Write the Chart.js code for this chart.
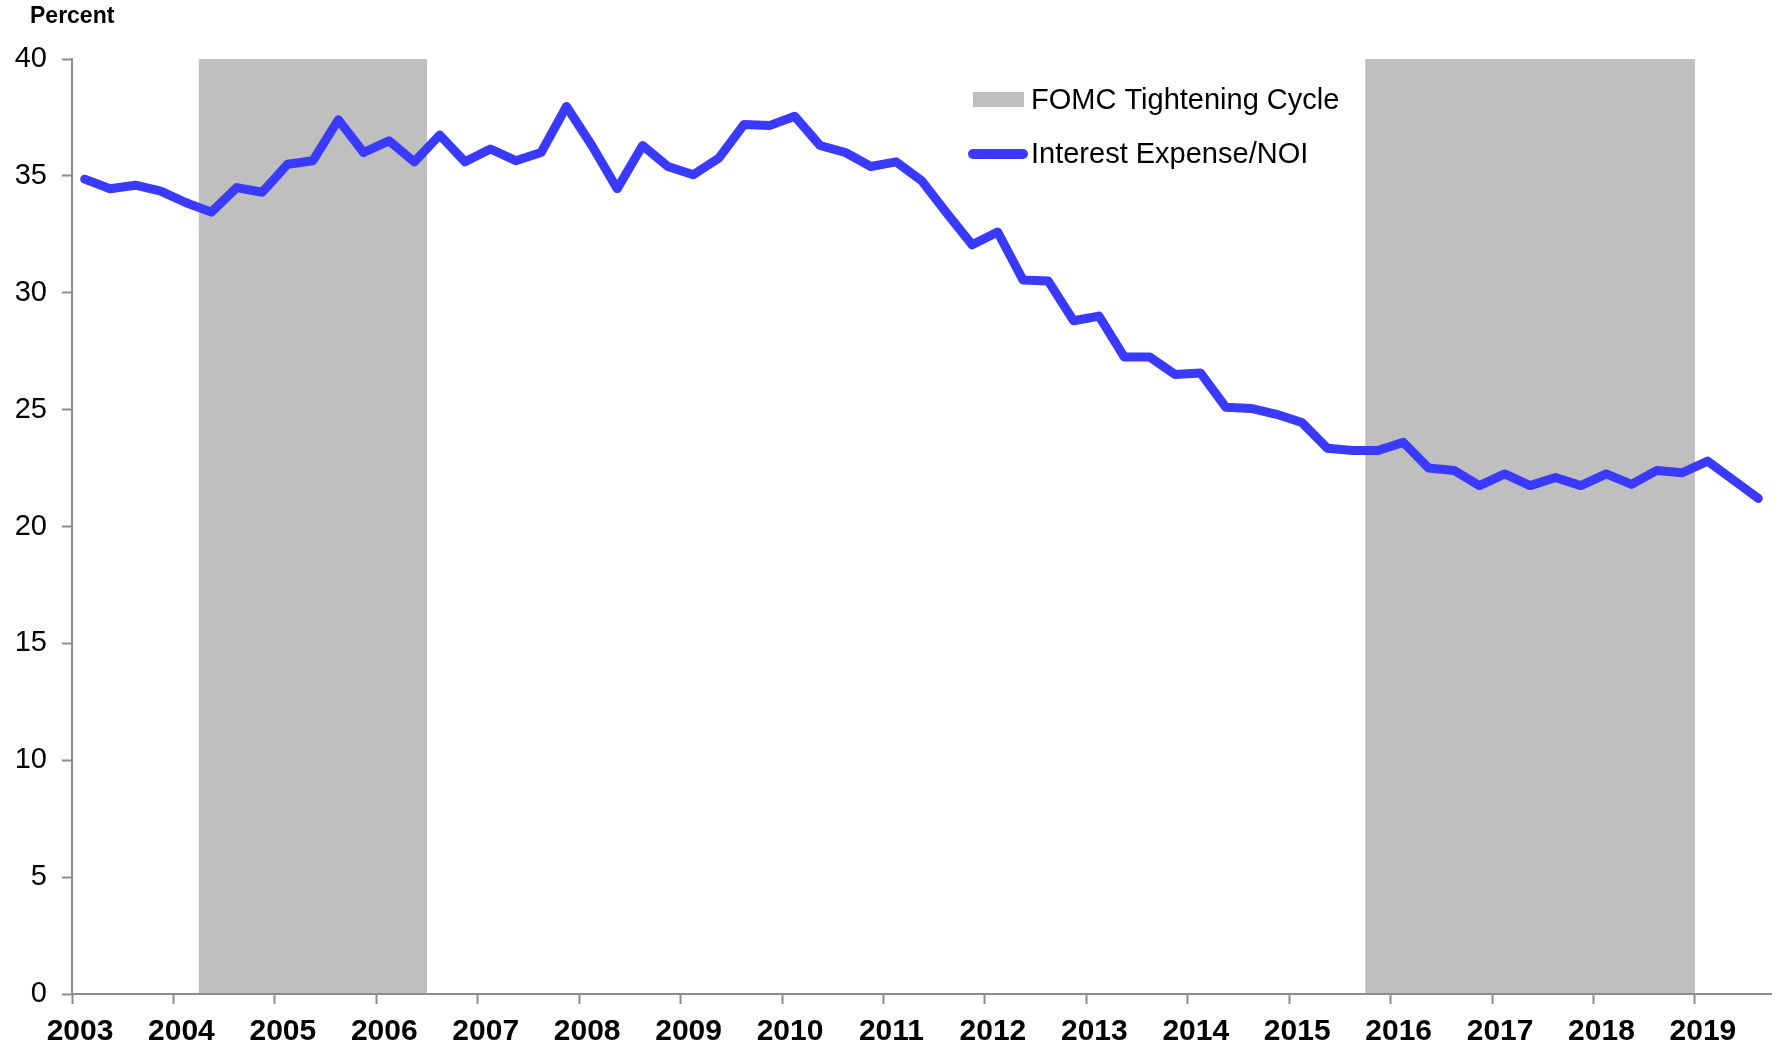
<!DOCTYPE html>
<html>
<head>
<meta charset="utf-8">
<title>Interest Expense/NOI</title>
<script src="https://cdn.jsdelivr.net/npm/chart.js@4.4.1/dist/chart.umd.min.js"></script>
<style>
  html, body { margin: 0; padding: 0; background: #fff; }
  #wrap { width: 1777px; height: 1047px; position: relative; }
</style>
</head>
<body>
<div id="wrap"><canvas id="interestChart"></canvas></div>
<script>
/* ── data ── */
const quarters = [
  '2003Q1','2003Q2','2003Q3','2003Q4',
  '2004Q1','2004Q2','2004Q3','2004Q4',
  '2005Q1','2005Q2','2005Q3','2005Q4',
  '2006Q1','2006Q2','2006Q3','2006Q4',
  '2007Q1','2007Q2','2007Q3','2007Q4',
  '2008Q1','2008Q2','2008Q3','2008Q4',
  '2009Q1','2009Q2','2009Q3','2009Q4',
  '2010Q1','2010Q2','2010Q3','2010Q4',
  '2011Q1','2011Q2','2011Q3','2011Q4',
  '2012Q1','2012Q2','2012Q3','2012Q4',
  '2013Q1','2013Q2','2013Q3','2013Q4',
  '2014Q1','2014Q2','2014Q3','2014Q4',
  '2015Q1','2015Q2','2015Q3','2015Q4',
  '2016Q1','2016Q2','2016Q3','2016Q4',
  '2017Q1','2017Q2','2017Q3','2017Q4',
  '2018Q1','2018Q2','2018Q3','2018Q4',
  '2019Q1','2019Q2','2019Q3'
];

const interestExpenseNOI = [
  34.86, 34.45, 34.6, 34.35,
  33.85, 33.45, 34.5, 34.3,
  35.5, 35.65, 37.4, 36.0,
  36.5, 35.6, 36.75, 35.6,
  36.15, 35.65, 36.0, 37.97,
  36.3, 34.45, 36.3, 35.4,
  35.05, 35.75, 37.2, 37.15,
  37.55, 36.3, 36.0, 35.4,
  35.6, 34.8, 33.4, 32.05,
  32.6, 30.55, 30.5, 28.8,
  29.0, 27.25, 27.25, 26.5,
  26.57, 25.1, 25.05, 24.8,
  24.45, 23.35, 23.25, 23.25,
  23.6, 22.5, 22.4, 21.75,
  22.25, 21.75, 22.1, 21.75,
  22.25, 21.8, 22.4, 22.3,
  22.8, 22.0, 21.2
];

// FOMC tightening cycles, in decimal years
const tighteningStart = [2004.25, 2015.75];
const tighteningEnd   = [2006.5, 2019.0];

const yTickStep = 5;
const yMin = 0, yMax = 40;
const xMin = 2003, xMax = 2019.75;

const LINE  = 'rgb(58, 58, 255)';
const SHADE = '#bfbfbf';
const AXIS  = '#8c8c8c';
const FONT  = '"Liberation Sans", Arial, sans-serif';

function quarterToYear(q) {
  const yr = parseInt(q.slice(0, 4), 10);
  const qn = parseInt(q.slice(5), 10);
  return yr + (qn - 0.5) / 4;
}

const points = quarters.map((q, i) => ({ x: quarterToYear(q), y: interestExpenseNOI[i] }));

/* ── shaded tightening periods, drawn before the axes ── */
const shadePlugin = {
  id: 'shade',
  beforeDraw(chart) {
    const { ctx, scales: { x, y } } = chart;
    ctx.save();
    ctx.fillStyle = SHADE;
    tighteningStart.forEach((s, i) => {
      const x1 = x.getPixelForValue(s);
      const x2 = x.getPixelForValue(tighteningEnd[i]);
      const top = y.getPixelForValue(yMax);
      const bot = y.getPixelForValue(yMin);
      ctx.fillRect(x1, top, x2 - x1, bot - top);
    });
    ctx.restore();
  }
};

/* ── legend and unit label ── */
const annotPlugin = {
  id: 'annot',
  afterDraw(chart) {
    const ctx = chart.ctx;
    ctx.save();
    ctx.fillStyle = '#000';
    ctx.textBaseline = 'alphabetic';
    ctx.textAlign = 'left';
    ctx.font = 'bold 23px ' + FONT;
    ctx.fillText('Percent', 30, 23);

    ctx.fillStyle = SHADE;
    ctx.fillRect(973, 92, 51, 15);

    ctx.strokeStyle = LINE;
    ctx.lineWidth = 10;
    ctx.lineCap = 'round';
    ctx.beginPath();
    ctx.moveTo(973, 154);
    ctx.lineTo(1023, 154);
    ctx.stroke();

    ctx.fillStyle = '#000';
    ctx.font = '29px ' + FONT;
    ctx.fillText('FOMC Tightening Cycle', 1031, 109);
    ctx.fillText('Interest Expense/NOI', 1031, 163);
    ctx.restore();
  }
};

new Chart(document.getElementById('interestChart'), {
  type: 'line',
  data: {
    datasets: [{
      label: 'Interest Expense/NOI',
      data: points,
      borderColor: LINE,
      borderWidth: 9,
      borderJoinStyle: 'round',
      borderCapStyle: 'round',
      pointRadius: 0,
      tension: 0,
      fill: false,
    }]
  },
  options: {
    responsive: true,
    maintainAspectRatio: false,
    animation: false,
    layout: { padding: { top: 59, right: 6, left: 0, bottom: 0 } },
    plugins: {
      legend: { display: false },
      tooltip: { enabled: false },
    },
    scales: {
      x: {
        type: 'linear',
        min: xMin,
        max: xMax,
        afterFit: s => { s.height = 53; },
        grid: { drawOnChartArea: false, drawTicks: true, tickLength: 10, tickWidth: 2, tickColor: AXIS },
        border: { display: true, color: AXIS, width: 2 },
        ticks: {
          stepSize: 1,
          includeBounds: false,
          autoSkip: false,
          maxRotation: 0,
          labelOffset: 8,
          padding: 10,
          color: '#000',
          font: { family: FONT, size: 30, weight: 'bold' },
          callback: v => String(v),
        }
      },
      y: {
        min: yMin,
        max: yMax,
        afterFit: s => { s.width = 72; },
        grid: { drawOnChartArea: false, drawTicks: true, tickLength: 10, tickWidth: 2, tickColor: AXIS },
        border: { display: true, color: AXIS, width: 2 },
        ticks: {
          stepSize: yTickStep,
          padding: 15,
          color: '#000',
          font: { family: FONT, size: 29 },
        }
      }
    }
  },
  plugins: [shadePlugin, annotPlugin]
});
</script>
</body>
</html>
